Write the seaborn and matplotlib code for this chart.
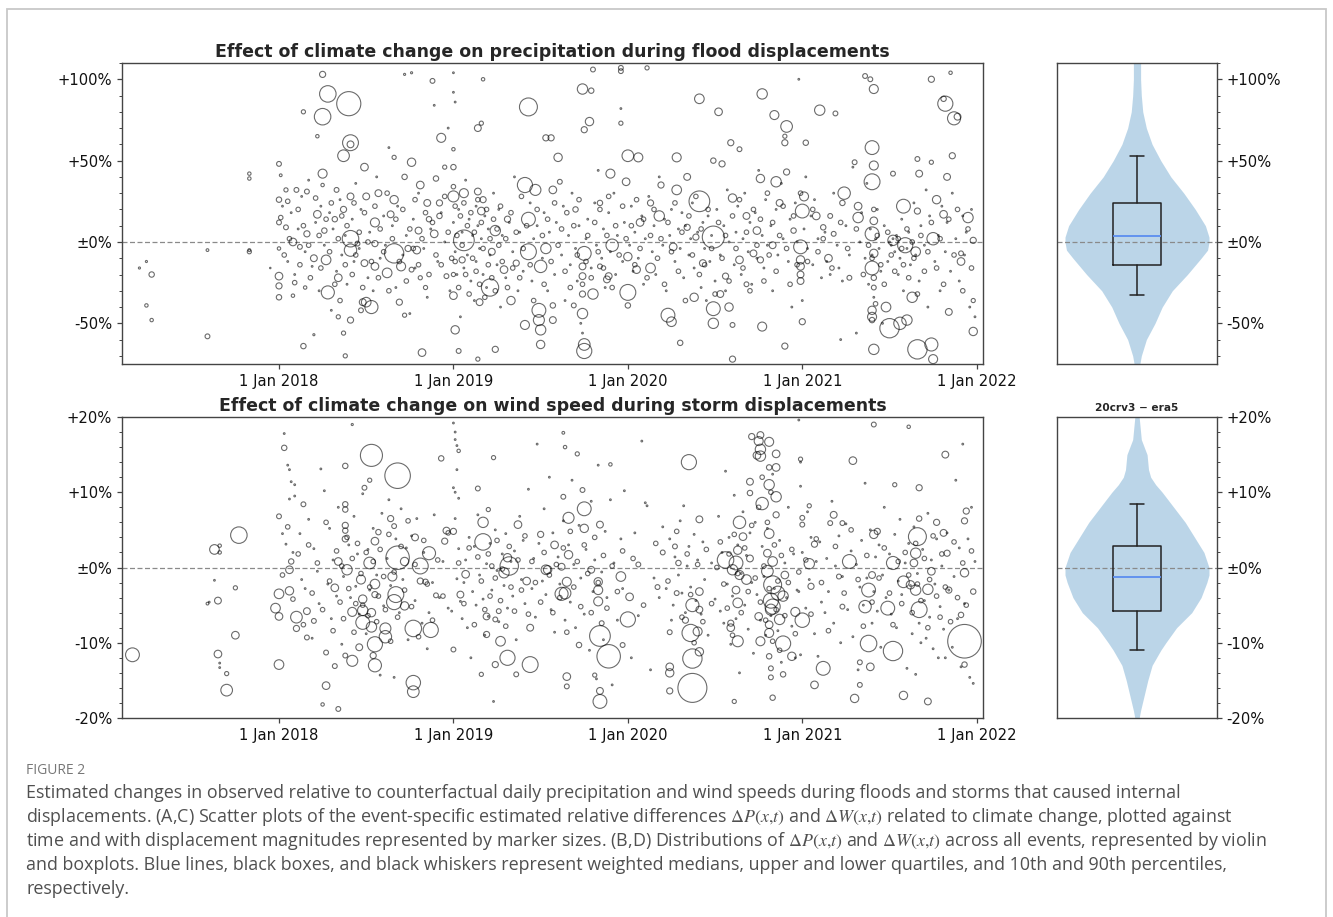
import matplotlib
matplotlib.use("Agg")
import matplotlib.pyplot as plt
import numpy as np
import pandas as pd
import seaborn as sns
from matplotlib.patches import Rectangle
from matplotlib.ticker import MultipleLocator

# ---------------- data (decimal year, change in %, displaced people in thousands) ----------------
flood_2017 = [
    (2017.20, -16, 1.5), (2017.24, -12, 1.5), (2017.27, -20, 10), (2017.24, -39, 4), (2017.27, -48, 4),
    (2017.59, -5, 2.6), (2017.59, -58, 8), (2017.83, 42, 4), (2017.83, 39, 4), (2017.83, -6, 6),
    (2017.83, -5, 3), (2017.95, -16, 0.7),
]
flood_2018 = [
    (2018.00, 48, 8), (2018.01, 41, 2.6), (2018.00, 26, 10), (2018.00, -21, 20), (2018.00, -27, 13),
    (2018.00, -34, 10), (2018.00, -4, 4), (2018.00, 12, 8), (2018.04, 32, 6), (2018.08, 0, 20),
    (2018.12, -3, 8), (2018.16, 5, 13), (2018.04, 9, 8), (2018.10, 32, 8), (2018.16, 31, 8),
    (2018.22, 17, 20), (2018.26, 7, 10), (2018.32, 14, 10), (2018.37, 20, 13), (2018.25, 35, 4),
    (2018.33, 32, 8), (2018.28, 91, 94), (2018.40, 85, 201), (2018.25, 77, 94), (2018.41, 61, 87),
    (2018.41, 60, 16), (2018.37, 53, 47), (2018.25, 103, 13), (2018.49, 46, 20), (2018.76, 49, 24),
    (2018.93, 64, 28), (2018.88, 99, 8), (2018.66, -7, 129), (2018.41, 2, 94), (2018.41, -5, 53),
    (2018.81, 35, 20), (2018.55, 12, 28), (2018.62, -19, 32), (2018.28, -31, 59), (2018.53, -40, 59),
    (2018.50, -37, 32), (2018.82, -68, 20), (2018.14, -64, 10), (2018.38, -70, 6), (2018.20, -57, 1.5),
    (2018.22, 65, 4), (2018.14, 80, 6), (2018.25, 42, 28), (2018.66, 52, 6), (2018.72, 40, 10),
    (2018.50, 28, 16), (2018.41, 28, 16), (2018.90, 39, 10), (2018.85, 24, 16), (2018.95, 46, 6),
    (2018.92, 24, 13), (2018.20, -10, 16), (2018.27, -11, 32), (2018.34, -22, 20), (2018.55, -15, 20),
    (2018.70, -15, 28), (2018.74, -4, 13), (2018.79, -5, 20), (2018.89, 5, 20), (2018.92, 16, 10),
    (2018.76, -17, 8), (2018.81, -22, 6), (2018.84, -28, 6), (2018.15, -28, 4), (2018.08, -33, 4),
    (2018.41, -48, 13), (2018.47, -42, 8), (2018.37, -56, 6), (2018.34, -46, 6), (2018.72, -45, 6),
    (2018.69, -37, 13), (2018.48, -37, 16), (2018.57, 30, 16), (2018.66, 26, 24), (2018.64, 17, 16),
    (2018.80, 7, 16), (2018.86, 14, 10), (2018.55, -1, 13), (2018.49, -13, 16), (2018.45, -1, 8),
    (2018.96, -21, 8), (2018.72, 103, 1.5), (2018.76, 104, 1.5),
]
flood_2019 = [
    (2019.00, 28, 42), (2019.06, 1, 148), (2019.06, 30, 28), (2019.43, 83, 111), (2019.14, 70, 16),
    (2019.21, -28, 103), (2019.00, -33, 20), (2019.01, -54, 24), (2019.03, -67, 8), (2019.14, -72, 6),
    (2019.50, -63, 24), (2019.49, -42, 66), (2019.41, -51, 28), (2019.49, -48, 42), (2019.24, -66, 13),
    (2019.41, 35, 79), (2019.47, 32, 42), (2019.43, 14, 66), (2019.43, -6, 87), (2019.50, -15, 53),
    (2019.53, -4, 37), (2019.57, 32, 20), (2019.33, -36, 24), (2019.15, -37, 16), (2019.14, 31, 16),
    (2019.56, 64, 13), (2019.53, 64, 13), (2019.60, 52, 24), (2019.24, 7, 37), (2019.22, -6, 16),
    (2019.29, -17, 20), (2019.31, 14, 13), (2019.36, -13, 13), (2019.16, 19, 20), (2019.17, 26, 13),
    (2019.05, -11, 13), (2019.00, -20, 6), (2019.00, 46, 10), (2019.00, 57, 4), (2019.17, 100, 4),
    (2019.16, 73, 6), (2019.74, 94, 37), (2019.79, 93, 10), (2019.80, 106, 8), (2019.96, 107, 8),
    (2019.96, 105, 8), (2019.78, 74, 24), (2019.75, 69, 13), (2019.96, 73, 6), (2019.91, -2, 53),
    (2019.88, -23, 16), (2019.80, -32, 37), (2019.75, -7, 66), (2019.74, -15, 16), (2019.74, -21, 16),
    (2019.74, -32, 13), (2019.74, -44, 37), (2019.75, -63, 47), (2019.75, -67, 79), (2019.57, -48, 16),
    (2019.57, -39, 10), (2019.69, -39, 8), (2019.61, 37, 8), (2019.70, 20, 10), (2019.84, 24, 10),
    (2019.90, 42, 28), (2019.99, 37, 20), (2019.89, -21, 16), (2019.84, -15, 8), (2019.50, -54, 37),
]
flood_2020 = [
    (2020.00, 53, 47), (2020.06, 52, 28), (2020.28, 52, 28), (2020.11, 107, 6), (2020.41, 88, 32),
    (2020.52, 80, 20), (2020.77, 91, 37), (2020.84, 78, 28), (2020.91, 71, 47), (2020.59, 61, 13),
    (2020.64, 57, 8), (2020.90, 61, 13), (2020.90, 65, 6), (2020.99, -3, 66), (2020.99, -11, 24),
    (2020.99, -15, 20), (2020.99, -20, 16), (2020.99, -24, 16), (2020.90, -64, 13), (2020.77, -52, 28),
    (2020.60, -72, 13), (2020.85, 37, 37), (2020.91, 43, 13), (2020.76, 39, 24), (2020.74, 7, 20),
    (2020.68, 16, 16), (2020.60, 27, 24), (2020.54, 48, 13), (2020.49, 50, 10), (2020.41, 25, 148),
    (2020.49, 3, 168), (2020.49, -41, 66), (2020.49, -50, 37), (2020.23, -45, 66), (2020.25, -49, 32),
    (2020.30, -62, 10), (2020.60, -51, 8), (2020.58, -40, 24), (2020.53, -32, 16), (2020.28, 32, 32),
    (2020.19, 35, 13), (2020.13, -16, 32), (2020.00, -31, 87), (2020.00, -39, 10), (2020.00, -9, 24),
    (2020.07, 12, 20), (2020.13, 24, 13), (2020.18, 16, 37), (2020.34, 40, 16), (2020.38, -34, 24),
    (2020.39, 3, 13), (2020.64, -11, 20), (2020.72, -7, 16), (2020.76, -11, 13), (2020.83, -2, 16),
    (2020.87, 24, 16), (2020.95, 7, 10), (2020.05, -17, 20), (2020.26, -3, 20), (2020.34, 9, 13),
    (2020.43, -13, 16), (2020.56, -21, 13), (2020.68, -26, 8),
]
flood_2021 = [
    (2021.10, 81, 37), (2021.19, 79, 8), (2021.36, 102, 8), (2021.39, 100, 8), (2021.41, 94, 28),
    (2021.74, 100, 13), (2021.82, 85, 79), (2021.87, 76, 59), (2021.89, 77, 16), (2021.81, 88, 10),
    (2021.85, 104, 4), (2021.02, 61, 10), (2021.40, 58, 66), (2021.41, 47, 28), (2021.40, 37, 87),
    (2021.30, 49, 8), (2021.66, 51, 8), (2021.74, 49, 6), (2021.86, 53, 13), (2021.83, 40, 16),
    (2021.67, 42, 16), (2021.52, 42, 8), (2021.77, 26, 24), (2021.58, 22, 66), (2021.66, 19, 13),
    (2021.95, 15, 37), (2021.81, 17, 20), (2021.52, 1, 37), (2021.40, 5, 66), (2021.41, 13, 20),
    (2021.41, -7, 24), (2021.40, -16, 66), (2021.41, -22, 10), (2021.41, -28, 8), (2021.59, -2, 79),
    (2021.65, -6, 32), (2021.75, 2, 53), (2021.91, -12, 20), (2021.98, 1, 13), (2021.91, -7, 8),
    (2021.63, -34, 37), (2021.60, -48, 37), (2021.48, -40, 32), (2021.50, -53, 129), (2021.56, -50, 53),
    (2021.40, -42, 24), (2021.40, -46, 28), (2021.40, -48, 10), (2021.41, -66, 37), (2021.66, -66, 129),
    (2021.74, -63, 59), (2021.75, -72, 28), (2021.84, -43, 16), (2021.98, -55, 24), (2021.98, -36, 6),
    (2021.24, 30, 53), (2021.23, 24, 10), (2021.15, -10, 20), (2021.32, 22, 20), (2021.32, 15, 37),
    (2021.00, 19, 66), (2021.01, 28, 28), (2021.00, -49, 13), (2021.08, 16, 20), (2021.12, 9, 10),
    (2021.18, 5, 8), (2021.16, 16, 8), (2021.27, -22, 8),
]
# minor flood events (~7k displaced), decimal year and change in %
flood_minor = [
    (2018.01, 15), (2018.03, -8), (2018.05, 25), (2018.06, 2), (2018.09, -25), (2018.11, 20), (2018.12, -14),
    (2018.14, 10), (2018.17, -2), (2018.18, -22), (2018.21, 27), (2018.23, 4), (2018.24, -16), (2018.27, 14),
    (2018.29, -6), (2018.30, 24), (2018.32, -26), (2018.34, 2), (2018.35, -36), (2018.36, 16), (2018.38, -14),
    (2018.39, 10), (2018.42, -20), (2018.43, 24), (2018.44, -8), (2018.46, 6), (2018.48, -28), (2018.49, 18),
    (2018.51, 0), (2018.53, -12), (2018.55, 22), (2018.57, -22), (2018.58, 8), (2018.60, -6), (2018.62, 30),
    (2018.63, -30), (2018.65, 2), (2018.67, 14), (2018.69, -12), (2018.71, 20), (2018.73, -24), (2018.75, 8),
    (2018.77, -4), (2018.78, 26), (2018.80, -14), (2018.82, 2), (2018.84, 18), (2018.86, -20), (2018.88, 12),
    (2018.90, -8), (2018.93, -14), (2018.95, 28), (2018.97, 6), (2018.99, -10),
    (2019.00, 34), (2019.01, 22), (2019.01, -12), (2019.02, 4), (2019.03, -28), (2019.04, 16), (2019.05, -2),
    (2019.06, 24), (2019.07, -20), (2019.08, 10), (2019.09, -32), (2019.10, 18), (2019.11, -10), (2019.12, 6),
    (2019.13, -18), (2019.14, 26), (2019.15, -26), (2019.16, 12), (2019.17, -4), (2019.18, -34), (2019.19, 20),
    (2019.20, -14), (2019.21, 2), (2019.22, -22), (2019.23, 14), (2019.24, -30), (2019.25, 8), (2019.26, -2),
    (2019.27, 22), (2019.28, -12), (2019.30, 2), (2019.31, -28), (2019.33, 18), (2019.34, -16), (2019.36, 6),
    (2019.38, -22), (2019.39, 28), (2019.40, -4), (2019.42, 10), (2019.44, -14), (2019.46, -36), (2019.48, 20),
    (2019.51, 4), (2019.52, -26), (2019.54, 14), (2019.56, -12), (2019.58, 24), (2019.60, -2), (2019.62, 8),
    (2019.64, -18), (2019.65, 18), (2019.67, -28), (2019.69, 10), (2019.71, -8), (2019.72, 26), (2019.74, -26),
    (2019.76, -12), (2019.77, 4), (2019.79, -22), (2019.81, 12), (2019.83, -6), (2019.84, 20), (2019.86, -16),
    (2019.88, 4), (2019.89, 28), (2019.91, -28), (2019.93, 10), (2019.95, -8), (2019.97, 22), (2019.99, 2),
    (2020.02, 10), (2020.04, -14), (2020.05, 26), (2020.07, -4), (2020.09, 14), (2020.11, -22), (2020.13, 4),
    (2020.15, 20), (2020.17, -10), (2020.19, 2), (2020.21, -26), (2020.23, 12), (2020.25, -6), (2020.27, 24),
    (2020.29, -18), (2020.31, 6), (2020.33, -36), (2020.35, 16), (2020.37, -8), (2020.39, 28), (2020.41, -20),
    (2020.42, 8), (2020.44, -14), (2020.46, 20), (2020.48, -4), (2020.50, -32), (2020.52, 12), (2020.54, -10),
    (2020.56, 4), (2020.58, -24), (2020.60, 16), (2020.62, -4), (2020.64, 26), (2020.66, -16), (2020.68, 6),
    (2020.70, -30), (2020.72, 20), (2020.74, -2), (2020.76, 14), (2020.78, -24), (2020.80, 30), (2020.81, -8),
    (2020.83, 12), (2020.85, -18), (2020.87, 4), (2020.89, 22), (2020.91, -4), (2020.93, -26), (2020.95, 16),
    (2020.97, -14), (2020.99, 30),
    (2021.03, -12), (2021.06, 20), (2021.09, -6), (2021.12, 2), (2021.17, -16), (2021.22, 12), (2021.26, -4),
    (2021.31, 8), (2021.35, -20), (2021.38, -2), (2021.40, -10), (2021.41, 20), (2021.42, -38), (2021.43, 4),
    (2021.45, -14), (2021.47, -26), (2021.49, 6), (2021.51, -8), (2021.53, -18), (2021.55, 2), (2021.57, -4),
    (2021.58, -14), (2021.60, 8), (2021.61, -22), (2021.63, 0), (2021.64, -10), (2021.66, -32), (2021.68, 4),
    (2021.70, -18), (2021.72, -6), (2021.74, 12), (2021.77, -16), (2021.79, 2), (2021.81, -26), (2021.84, 14),
    (2021.87, -8), (2021.89, 20), (2021.92, -30), (2021.95, 8), (2021.97, -16),
]
# small flood events (~1k displaced), decimal year and change in %
flood_small = [
    (2018.02, 22), (2018.05, -12), (2018.07, 18), (2018.09, -20), (2018.11, 8), (2018.13, 28),
    (2018.15, -6), (2018.17, 38), (2018.19, -15), (2018.21, 12), (2018.23, -30), (2018.24, 22),
    (2018.26, -2), (2018.29, 18), (2018.30, -42), (2018.31, 8), (2018.33, -18), (2018.35, 26),
    (2018.36, -8), (2018.38, 4), (2018.39, -26), (2018.42, 14), (2018.43, -12), (2018.44, 36),
    (2018.46, -4), (2018.47, 20), (2018.51, -22), (2018.52, 6), (2018.54, -30), (2018.56, 40),
    (2018.58, -10), (2018.60, 16), (2018.61, -2), (2018.63, 58), (2018.65, 10), (2018.67, -28),
    (2018.68, 22), (2018.71, -8), (2018.73, 4), (2018.75, -44), (2018.77, 14), (2018.78, -16),
    (2018.80, 30), (2018.83, -4), (2018.85, -34), (2018.87, 8), (2018.89, 84), (2018.91, -12),
    (2018.93, 18), (2018.95, 0), (2018.97, 70), (2018.98, -30),
    (2019.00, 104), (2019.00, 92), (2019.01, 86), (2019.00, 12), (2019.01, -6), (2019.02, -20),
    (2019.03, 20), (2019.04, -46), (2019.05, 6), (2019.06, -16), (2019.07, 38), (2019.08, -8),
    (2019.09, 14), (2019.10, -24), (2019.11, 4), (2019.12, -36), (2019.13, 22), (2019.13, -12),
    (2019.14, 10), (2019.15, -4), (2019.16, 2), (2019.17, -20), (2019.18, 16), (2019.19, -28),
    (2019.20, 8), (2019.21, -8), (2019.23, 30), (2019.25, -14), (2019.26, 20), (2019.27, -40),
    (2019.28, 4), (2019.30, -22), (2019.32, 12), (2019.34, -6), (2019.35, 40), (2019.37, -30),
    (2019.38, 6), (2019.40, -18), (2019.44, 24), (2019.45, -24), (2019.46, 2), (2019.48, 10),
    (2019.51, -10), (2019.52, 18), (2019.54, -30), (2019.55, 6), (2019.58, -20), (2019.59, 12),
    (2019.62, -8), (2019.63, 22), (2019.64, -36), (2019.66, 4), (2019.67, -14), (2019.68, 30),
    (2019.70, -4), (2019.71, -24), (2019.72, 10), (2019.73, -50), (2019.74, -56), (2019.76, 2),
    (2019.77, 14), (2019.79, -16), (2019.81, 24), (2019.82, -2), (2019.83, 44), (2019.85, -10),
    (2019.86, 8), (2019.87, -28), (2019.89, 18), (2019.90, -6), (2019.92, 30), (2019.93, -20),
    (2019.94, 4), (2019.96, 82), (2019.97, -12), (2019.98, 12),
    (2020.01, -2), (2020.02, 22), (2020.03, -18), (2020.04, 6), (2020.06, -10), (2020.08, 16),
    (2020.09, -26), (2020.10, 2), (2020.12, 28), (2020.14, -6), (2020.15, 10), (2020.16, -20),
    (2020.18, 40), (2020.20, -2), (2020.21, 14), (2020.22, -30), (2020.24, 4), (2020.25, 20),
    (2020.27, -12), (2020.29, 8), (2020.30, -4), (2020.31, 18), (2020.32, -22), (2020.33, 10),
    (2020.35, -8), (2020.36, 2), (2020.37, 24), (2020.38, -16), (2020.40, 6), (2020.42, -28),
    (2020.43, 12), (2020.44, -4), (2020.45, -36), (2020.46, 16), (2020.47, -12), (2020.48, 4),
    (2020.50, -24), (2020.51, 20), (2020.53, -8), (2020.55, 10), (2020.56, -30), (2020.57, 32),
    (2020.58, 0), (2020.61, -14), (2020.62, 6), (2020.63, 22), (2020.65, -20), (2020.66, 2),
    (2020.67, 30), (2020.69, -6), (2020.70, 12), (2020.71, -26), (2020.73, 18), (2020.74, -10),
    (2020.75, 44), (2020.77, 4), (2020.78, -16), (2020.79, 26), (2020.80, -2), (2020.82, 10),
    (2020.83, -30), (2020.85, 20), (2020.86, -8), (2020.88, 36), (2020.89, 2), (2020.92, -12),
    (2020.93, 14), (2020.94, -40), (2020.96, 24), (2020.97, 0), (2020.98, 100),
    (2021.00, -36), (2021.01, 8), (2021.02, 40), (2021.03, -4), (2021.05, 16), (2021.06, -14),
    (2021.07, 26), (2021.09, 2), (2021.11, -22), (2021.13, 6), (2021.14, -12), (2021.16, -20),
    (2021.18, 30), (2021.20, -2), (2021.21, -16), (2021.22, -60), (2021.23, -24), (2021.25, 10),
    (2021.27, -8), (2021.29, 46), (2021.31, -56), (2021.33, 0), (2021.34, 18), (2021.36, -10),
    (2021.37, 36), (2021.38, -26), (2021.39, 8), (2021.40, -8), (2021.41, -34), (2021.42, 2),
    (2021.43, 20), (2021.44, -4), (2021.45, -18), (2021.46, -50), (2021.47, 10), (2021.49, -12),
    (2021.50, 0), (2021.51, -2), (2021.52, 2), (2021.53, -6), (2021.54, 4), (2021.55, -20),
    (2021.56, -10), (2021.57, 14), (2021.58, -30), (2021.60, -4), (2021.61, 6), (2021.62, -14),
    (2021.64, 24), (2021.65, -8), (2021.67, -24), (2021.68, 10), (2021.70, -2), (2021.71, 32),
    (2021.72, -40), (2021.73, 16), (2021.76, -12), (2021.78, 4), (2021.79, -30), (2021.80, 22),
    (2021.82, -6), (2021.83, 12), (2021.85, -18), (2021.86, 30), (2021.88, 2), (2021.90, -24),
    (2021.92, 16), (2021.93, -8), (2021.94, 6), (2021.96, -40), (2021.97, 20), (2021.99, -46),
]

wind_2017 = [
    (2017.16, -11.6, 66), (2017.63, 2.4, 32), (2017.66, 2.9, 4), (2017.66, 2.0, 4), (2017.77, 4.3, 94),
    (2017.65, -4.4, 16), (2017.59, -4.8, 2.6), (2017.75, -2.7, 6), (2017.75, -9.0, 20),
    (2017.65, -11.5, 20), (2017.70, -14.1, 6), (2017.70, -16.3, 47),
]
wind_2018 = [
    (2018.00, 6.8, 8), (2018.03, 15.9, 10), (2018.00, -3.5, 32), (2018.06, -3.1, 24), (2017.98, -5.4, 32),
    (2018.00, -6.5, 20), (2018.00, -12.9, 32), (2018.06, -0.3, 20), (2018.07, 0.8, 10), (2018.10, -6.6, 47),
    (2018.10, -8.1, 13), (2018.16, -5.8, 16), (2018.14, 8.4, 8), (2018.27, -15.7, 20), (2018.34, -18.8, 8),
    (2018.25, -18.2, 4), (2018.53, 14.9, 168), (2018.68, 12.2, 225), (2018.38, 13.5, 10), (2018.52, 11.6, 6),
    (2018.38, 8.4, 10), (2018.38, 7.7, 10), (2018.38, 5.6, 13), (2018.38, 4.9, 10), (2018.38, 3.8, 13),
    (2018.57, 4.7, 10), (2018.55, 3.5, 20), (2018.64, 6.5, 13), (2018.66, 5.5, 8), (2018.78, 4.0, 16),
    (2018.86, 1.9, 59), (2018.68, 1.3, 190), (2018.81, 0.2, 87), (2018.72, 0.8, 24), (2018.52, 0.6, 47),
    (2018.39, -0.3, 37), (2018.34, 0.8, 20), (2018.47, -1.6, 28), (2018.55, -2.2, 32), (2018.65, -1.2, 28),
    (2018.67, -3.6, 87), (2018.66, -4.6, 79), (2018.72, -5.1, 24), (2018.55, -3.6, 13), (2018.48, -4.2, 24),
    (2018.42, -5.9, 28), (2018.48, -5.7, 37), (2018.48, -7.3, 66), (2018.53, -7.9, 37), (2018.53, -6.0, 24),
    (2018.61, -8.1, 42), (2018.61, -9.2, 53), (2018.55, -10.2, 79), (2018.55, -13.0, 59), (2018.54, -11.7, 13),
    (2018.46, -10.6, 16), (2018.42, -12.4, 42), (2018.38, -11.7, 8), (2018.77, -8.1, 94), (2018.87, -8.3, 79),
    (2018.77, -15.3, 72), (2018.77, -16.5, 47), (2018.93, 14.5, 10), (2018.96, 4.9, 16), (2018.95, 3.5, 13),
    (2018.90, -3.7, 8), (2018.84, -1.9, 10), (2018.81, -1.8, 13), (2018.32, -2.7, 20), (2018.20, -7.1, 8),
    (2018.16, -9.3, 8), (2018.27, -11.3, 8), (2018.32, -13.1, 8), (2018.49, 10.6, 8), (2018.42, 19.0, 1.5),
]
wind_2019 = [
    (2019.17, 3.4, 94), (2019.17, 6.0, 37), (2019.32, 0.2, 117), (2019.29, -0.7, 37), (2019.31, 1.3, 24),
    (2019.07, -0.9, 20), (2019.04, -3.6, 16), (2019.00, 4.8, 13), (2019.14, 10.5, 8), (2019.23, 14.6, 6),
    (2019.03, 15.5, 4), (2019.00, -10.9, 8), (2019.19, -6.5, 16), (2019.24, -6.9, 8), (2019.26, -5.8, 8),
    (2019.19, -8.9, 13), (2019.27, -9.8, 32), (2019.31, -12.0, 79), (2019.44, -12.9, 87), (2019.24, -12.9, 13),
    (2019.36, -14.2, 8), (2019.16, -14.2, 6), (2019.20, 7.7, 6), (2019.37, 5.7, 20), (2019.44, -8.0, 16),
    (2019.42, -1.8, 20), (2019.50, 4.4, 13), (2019.54, -0.3, 24), (2019.63, 17.9, 2.6), (2019.64, 16.0, 4),
    (2019.71, 15.1, 6), (2019.75, 7.8, 66), (2019.66, 6.6, 42), (2019.74, 10.3, 8), (2019.63, 9.4, 8),
    (2019.75, 5.2, 24), (2019.84, 5.7, 16), (2019.90, 13.7, 4), (2019.58, 3.0, 20), (2019.53, -0.3, 32),
    (2019.66, 1.7, 24), (2019.62, 0.1, 16), (2019.65, -1.9, 28), (2019.64, -3.4, 47), (2019.62, -3.5, 59),
    (2019.79, -0.3, 16), (2019.83, -1.9, 24), (2019.83, -3.0, 28), (2019.83, -4.5, 28), (2019.96, -1.2, 32),
    (2019.84, -9.1, 148), (2019.89, -11.8, 190), (2019.85, -7.4, 8), (2019.97, -10.3, 8), (2019.72, -10.3, 10),
    (2019.65, -14.5, 20), (2019.65, -15.8, 8), (2019.81, -14.3, 6), (2019.84, -16.4, 16), (2019.84, -17.8, 66),
]
wind_2020 = [
    (2020.01, -3.9, 20), (2020.00, -6.9, 79), (2020.35, 14.0, 79), (2020.41, 6.4, 16), (2020.27, 2.8, 8),
    (2020.20, 2.0, 8), (2020.29, 0.6, 10), (2020.06, 0.4, 8), (2020.17, -2.6, 8), (2020.28, -3.4, 8),
    (2020.37, -5.0, 59), (2020.41, -3.2, 20), (2020.41, -5.6, 16), (2020.33, -7.0, 13), (2020.36, -8.7, 103),
    (2020.40, -8.5, 28), (2020.41, -11.2, 24), (2020.37, -12.1, 129), (2020.37, -16.0, 290), (2020.24, -13.2, 20),
    (2020.24, -14.0, 24), (2020.24, -16.4, 13), (2020.24, -8.6, 8), (2020.61, -17.8, 6), (2020.56, 1.0, 94),
    (2020.62, 0.6, 66), (2020.60, -0.3, 37), (2020.64, -1.0, 28), (2020.64, 6.0, 53), (2020.66, 4.1, 20),
    (2020.63, 2.3, 24), (2020.70, 1.2, 16), (2020.68, -1.6, 32), (2020.62, -3.0, 20), (2020.63, -4.7, 32),
    (2020.59, -7.4, 13), (2020.59, -8.0, 20), (2020.63, -9.8, 42), (2020.70, 9.9, 10), (2020.70, 11.4, 16),
    (2020.71, 17.4, 13), (2020.76, 17.6, 16), (2020.75, 16.8, 28), (2020.76, 15.7, 37), (2020.74, 14.9, 20),
    (2020.81, 16.7, 28), (2020.85, 15.1, 20), (2020.76, 14.8, 37), (2020.81, 13.3, 10), (2020.85, 13.3, 20),
    (2020.81, 11.0, 37), (2020.85, 9.4, 37), (2020.77, 8.5, 53), (2020.85, 7.0, 13), (2020.81, 4.5, 32),
    (2020.80, 1.9, 20), (2020.83, 0.8, 32), (2020.80, -0.5, 47), (2020.83, -2.3, 111), (2020.86, -3.4, 66),
    (2020.82, -4.4, 79), (2020.89, -3.8, 37), (2020.82, -5.6, 42), (2020.83, -5.2, 79), (2020.87, -6.9, 37),
    (2020.90, -1.0, 20), (2020.75, -6.5, 20), (2020.81, -7.6, 20), (2020.81, -8.7, 28), (2020.76, -9.8, 28),
    (2020.89, -10.1, 79), (2020.81, -11.8, 10), (2020.82, -13.4, 8), (2020.82, -14.6, 8), (2020.89, -14.2, 10),
    (2020.83, -17.3, 10), (2020.94, -11.8, 24), (2020.96, -5.9, 28), (2020.99, 14.4, 6),
]
wind_2021 = [
    (2021.00, -7.0, 72), (2021.05, -2.5, 13), (2021.04, 0.5, 37), (2021.07, 3.1, 13), (2021.00, 5.7, 8),
    (2021.00, 6.6, 8), (2021.04, 8.2, 6), (2021.12, -13.4, 66), (2021.07, -15.6, 20), (2021.18, 7.0, 16),
    (2021.16, 5.9, 8), (2021.23, 5.9, 8), (2021.27, 0.8, 66), (2021.21, -1.2, 8), (2021.23, -5.2, 8),
    (2021.29, 14.2, 20), (2021.38, -3.0, 66), (2021.36, -5.2, 53), (2021.38, -10.1, 94), (2021.39, -13.2, 20),
    (2021.33, -15.6, 8), (2021.30, -17.4, 24), (2021.41, 4.4, 24), (2021.43, 4.8, 13), (2021.49, -5.4, 66),
    (2021.52, -11.1, 129), (2021.52, 0.6, 59), (2021.53, 11.0, 6), (2021.58, -17.0, 24), (2021.58, -1.9, 47),
    (2021.62, -2.3, 24), (2021.64, 0.6, 20), (2021.66, 4.1, 111), (2021.65, 1.9, 37), (2021.67, 6.5, 10),
    (2021.67, -5.6, 87), (2021.65, -3.0, 37), (2021.72, -2.9, 37), (2021.74, -0.5, 20), (2021.77, 6.0, 13),
    (2021.81, 4.6, 16), (2021.83, 1.9, 13), (2021.84, -3.0, 13), (2021.67, 10.6, 13), (2021.82, 15.0, 16),
    (2021.41, 19.0, 8), (2021.61, 18.7, 4), (2021.94, 7.5, 13), (2021.93, 6.2, 13), (2021.93, -0.7, 24),
    (2021.98, -3.2, 10), (2021.91, -6.3, 10), (2021.93, -9.8, 390), (2021.93, -12.9, 10), (2021.72, -17.8, 16),
    (2021.33, -12.6, 8), (2021.40, -1.0, 16),
]
# minor storm events (~7k displaced), decimal year and change in %
wind_minor = [
    (2018.02, -1.0), (2018.05, 5.4), (2018.08, -4.2), (2018.11, 1.8), (2018.14, -7.6), (2018.17, 3.0),
    (2018.19, -3.4), (2018.22, 0.6), (2018.25, -5.6), (2018.27, 6.0), (2018.29, -1.8), (2018.31, -8.4),
    (2018.33, 2.2), (2018.35, -4.6), (2018.36, 0.2), (2018.37, -6.8), (2018.39, 4.0), (2018.40, -2.8),
    (2018.42, 1.2), (2018.43, -8.6), (2018.44, -4.8), (2018.45, 3.2), (2018.47, -0.8), (2018.48, -5.0),
    (2018.50, 2.0), (2018.51, -6.4), (2018.52, -2.6), (2018.54, 0.8), (2018.56, -7.2), (2018.57, -3.8),
    (2018.58, 2.4), (2018.60, -1.2), (2018.61, -5.6), (2018.63, 4.4), (2018.64, -9.8), (2018.66, -0.6),
    (2018.68, -6.6), (2018.70, 2.8), (2018.72, -3.0), (2018.74, 6.2), (2018.76, -5.2), (2018.78, 0.4),
    (2018.80, -9.2), (2018.83, 3.6), (2018.85, -2.2), (2018.88, -7.0), (2018.91, 1.0), (2018.94, -3.8),
    (2018.97, 4.6),
    (2019.03, 0.6), (2019.06, -4.8), (2019.09, 2.6), (2019.12, -7.6), (2019.14, 1.4), (2019.16, -1.8),
    (2019.18, -5.6), (2019.20, 1.8), (2019.21, -3.8), (2019.22, 0.2), (2019.24, -1.4), (2019.25, 3.6),
    (2019.27, -4.4), (2019.28, -0.2), (2019.30, -7.8), (2019.32, 2.8), (2019.33, -2.6), (2019.35, -5.8),
    (2019.37, 1.0), (2019.39, -3.0), (2019.41, 4.2), (2019.43, -6.2), (2019.45, 0.8), (2019.47, -2.0),
    (2019.50, -4.6), (2019.52, 2.0), (2019.55, -1.0), (2019.57, -6.0), (2019.59, 0.4), (2019.61, -4.0),
    (2019.63, 2.6), (2019.65, -8.6), (2019.67, 4.8), (2019.69, -2.6), (2019.71, 0.8), (2019.73, -5.2),
    (2019.75, 3.0), (2019.77, -0.8), (2019.79, -6.0), (2019.81, 4.0), (2019.83, -2.0), (2019.86, 1.6),
    (2019.88, -5.4), (2019.91, 0.2), (2019.94, -3.2), (2019.97, 2.2),
    (2020.03, 1.2), (2020.09, -5.0), (2020.16, 3.2), (2020.23, -1.8), (2020.28, 4.8), (2020.31, -6.6),
    (2020.34, 1.8), (2020.36, -3.6), (2020.38, -10.0), (2020.40, 0.4), (2020.43, -7.2), (2020.45, 2.4),
    (2020.48, -4.8), (2020.51, 0.0), (2020.53, 3.4), (2020.55, -2.2), (2020.57, -5.4), (2020.58, 1.8),
    (2020.60, -9.0), (2020.61, 4.4), (2020.63, -0.8), (2020.65, -6.0), (2020.67, 2.6), (2020.69, -3.2),
    (2020.71, 5.6), (2020.73, -1.4), (2020.75, 8.0), (2020.76, -4.6), (2020.77, 12.0), (2020.78, 0.2),
    (2020.79, -7.0), (2020.80, 6.0), (2020.81, -2.8), (2020.82, 10.0), (2020.83, -9.8), (2020.84, 3.0),
    (2020.85, -5.6), (2020.86, -1.8), (2020.87, -11.0), (2020.88, 1.6), (2020.90, -6.4), (2020.92, -2.0),
    (2020.94, 2.4), (2020.96, -8.8), (2020.98, -0.6),
    (2021.02, 1.0), (2021.05, -6.2), (2021.08, 3.8), (2021.11, -2.0), (2021.15, -8.4), (2021.19, 2.8),
    (2021.24, -3.4), (2021.28, 5.0), (2021.32, -1.6), (2021.35, -7.8), (2021.37, 1.6), (2021.40, -4.6),
    (2021.44, -1.4), (2021.47, 2.6), (2021.50, -3.4), (2021.52, -7.6), (2021.55, 0.8), (2021.57, -4.8),
    (2021.59, 2.0), (2021.61, -1.0), (2021.63, -6.0), (2021.65, 3.2), (2021.66, -2.2), (2021.68, -4.4),
    (2021.70, 1.2), (2021.72, -8.0), (2021.73, -1.6), (2021.75, 4.2), (2021.77, -3.8), (2021.79, -6.6),
    (2021.80, 1.8), (2021.82, -2.6), (2021.85, -7.2), (2021.87, 3.4), (2021.89, -4.0), (2021.92, 0.6),
    (2021.94, -5.0), (2021.97, 2.2),
]
# small storm events (~1k displaced), decimal year and change in %
wind_small = [
    (2017.63, -1.7), (2017.66, -12.7), (2017.66, -13.3), (2017.60, -4.6),
    (2018.03, 17.8), (2018.05, 13.6), (2018.06, 13.0), (2018.07, 11.4), (2018.09, 11.0), (2018.06, 9.1),
    (2018.09, 9.5), (2018.02, 4.5), (2018.04, 3.1), (2018.08, 2.0), (2018.12, 4.5), (2018.13, -1.6),
    (2018.15, -2.8), (2018.17, 6.4), (2018.19, -9.4), (2018.20, 2.5), (2018.22, -0.5), (2018.23, -4.8),
    (2018.24, 13.1), (2018.26, 10.2), (2018.28, -2.2), (2018.29, 5.2), (2018.30, -6.8), (2018.31, 1.0),
    (2018.33, -3.8), (2018.34, 8.0), (2018.36, -10.2), (2018.37, -1.2), (2018.40, 3.0), (2018.41, -4.0),
    (2018.43, 6.8), (2018.44, -2.5), (2018.45, 1.8), (2018.46, -6.2), (2018.48, 9.8), (2018.50, -8.8),
    (2018.51, 2.4), (2018.52, -3.0), (2018.54, 5.2), (2018.56, -1.0), (2018.58, -14.3), (2018.59, 7.2),
    (2018.60, -5.1), (2018.62, 1.2), (2018.63, 9.0), (2018.64, -2.4), (2018.66, -14.6), (2018.67, 3.8),
    (2018.69, -6.0), (2018.70, 7.8), (2018.71, -1.6), (2018.73, 2.6), (2018.74, -9.6), (2018.76, 4.2),
    (2018.78, -4.4), (2018.79, 6.5), (2018.82, -7.4), (2018.83, 2.0), (2018.85, -10.8), (2018.86, -6.0),
    (2018.88, -2.0), (2018.89, 7.0), (2018.92, -4.0), (2018.94, 0.8), (2018.97, -5.4), (2018.99, -5.8),
    (2019.00, 19.2), (2019.01, 18.0), (2019.01, 17.0), (2019.02, 16.2), (2019.02, 13.0), (2019.00, 10.6),
    (2019.01, 10.0), (2019.03, 9.2), (2019.01, 6.5), (2019.03, 2.5), (2019.02, -1.5), (2019.04, -4.5),
    (2019.05, -6.8), (2019.06, -2.0), (2019.07, 1.0), (2019.08, -8.0), (2019.09, 4.0), (2019.10, -12.0),
    (2019.11, -3.2), (2019.12, 2.8), (2019.13, -5.0), (2019.14, 7.0), (2019.15, -1.0), (2019.17, -4.2),
    (2019.18, -9.0), (2019.19, 0.5), (2019.20, -6.5), (2019.21, 3.2), (2019.22, -3.0), (2019.23, -17.8),
    (2019.24, 5.0), (2019.25, -0.4), (2019.26, -7.2), (2019.28, 1.8), (2019.29, -2.4), (2019.30, 4.5),
    (2019.31, -5.4), (2019.33, 0.8), (2019.34, -3.8), (2019.35, 2.2), (2019.36, -9.6), (2019.38, 6.8),
    (2019.39, -1.6), (2019.40, 3.6), (2019.41, -4.8), (2019.43, 10.4), (2019.45, -2.8), (2019.46, 1.2),
    (2019.47, -6.6), (2019.48, 16.4), (2019.49, 3.2), (2019.51, -1.8), (2019.52, 7.8), (2019.53, -3.6),
    (2019.55, 12.0), (2019.56, -5.6), (2019.57, 4.6), (2019.58, -8.6), (2019.60, 1.4), (2019.61, -2.2),
    (2019.63, 6.2), (2019.64, -7.0), (2019.66, 3.0), (2019.67, -4.6), (2019.68, 11.6), (2019.69, 0.4),
    (2019.70, -8.0), (2019.72, 5.6), (2019.73, -1.4), (2019.75, -6.2), (2019.76, 2.4), (2019.78, -11.0),
    (2019.79, 8.8), (2019.80, -3.2), (2019.81, 1.0), (2019.82, -14.8), (2019.83, 13.6), (2019.85, -0.6),
    (2019.86, -9.6), (2019.87, 4.8), (2019.88, -4.0), (2019.90, 9.0), (2019.91, -15.6), (2019.92, 0.6),
    (2019.94, -7.0), (2019.96, 3.8), (2019.97, -2.8), (2019.98, 10.2),
    (2020.02, -12.0), (2020.04, 4.6), (2020.06, -6.4), (2020.08, 16.8), (2020.10, 8.6), (2020.11, 8.2),
    (2020.13, -13.6), (2020.15, -1.4), (2020.18, -4.0), (2020.20, 5.4), (2020.22, -2.8), (2020.24, 3.8),
    (2020.25, -7.0), (2020.26, -5.0), (2020.27, 1.4), (2020.29, -1.0), (2020.30, 6.2), (2020.31, -3.4),
    (2020.32, 8.2), (2020.33, -6.0), (2020.34, 0.2), (2020.35, 2.8), (2020.36, -2.6), (2020.38, 4.4),
    (2020.39, -4.4), (2020.40, 1.0), (2020.42, -6.2), (2020.43, 3.4), (2020.44, -1.6), (2020.46, -9.0),
    (2020.48, 0.6), (2020.50, -4.2), (2020.52, 6.8), (2020.53, -5.8), (2020.54, 2.0), (2020.55, -7.4),
    (2020.56, 12.8), (2020.57, -2.2), (2020.58, 4.0), (2020.59, -10.2), (2020.60, -3.8), (2020.61, 9.6),
    (2020.62, -6.8), (2020.63, 3.0), (2020.64, -14.0), (2020.65, -0.8), (2020.66, 7.4), (2020.67, -5.0),
    (2020.68, 1.6), (2020.69, -8.2), (2020.70, 4.6), (2020.71, -2.0), (2020.72, -11.4), (2020.73, 6.0),
    (2020.74, -3.6), (2020.76, -7.0), (2020.77, 2.8), (2020.78, -1.2), (2020.79, -9.0), (2020.80, 5.2),
    (2020.82, -6.4), (2020.83, 12.4), (2020.84, -2.8), (2020.86, -8.4), (2020.87, 3.6), (2020.88, -12.6),
    (2020.90, 0.6), (2020.91, -4.0), (2020.92, 8.0), (2020.94, -7.8), (2020.95, 1.8), (2020.96, -12.0),
    (2020.97, -3.0), (2020.98, 19.6), (2020.99, 14.0), (2020.99, 10.8), (2020.98, -3.2), (2020.99, -11.6),
    (2021.00, 2.0), (2021.02, -5.4), (2021.03, 7.4), (2021.04, -1.6), (2021.05, 4.0), (2021.07, -8.8),
    (2021.08, 0.8), (2021.09, -11.8), (2021.10, 3.4), (2021.11, -4.6), (2021.13, -6.0), (2021.14, 1.2),
    (2021.15, -3.2), (2021.17, 8.8), (2021.18, -7.4), (2021.19, 0.2), (2021.21, 4.2), (2021.22, -10.0),
    (2021.23, -1.2), (2021.25, 5.8), (2021.26, -5.6), (2021.28, 2.2), (2021.29, -9.2), (2021.31, 0.4),
    (2021.32, -13.6), (2021.33, -2.6), (2021.34, 3.6), (2021.35, -5.0), (2021.36, 11.2), (2021.37, -1.4),
    (2021.39, 5.0), (2021.40, -7.4), (2021.41, -3.2), (2021.42, 1.4), (2021.43, -5.8), (2021.44, 3.0),
    (2021.45, -10.6), (2021.46, -1.0), (2021.47, 8.0), (2021.48, -4.0), (2021.50, 1.8), (2021.51, -6.2),
    (2021.53, 4.4), (2021.54, -8.0), (2021.55, -1.8), (2021.56, 6.4), (2021.57, -3.6), (2021.59, 0.6),
    (2021.60, -13.4), (2021.61, 3.2), (2021.62, -2.4), (2021.63, -8.8), (2021.64, 5.4), (2021.65, -14.2),
    (2021.66, -0.8), (2021.67, -7.4), (2021.68, -10.0), (2021.69, 2.4), (2021.70, -4.4), (2021.71, -9.4),
    (2021.72, 7.2), (2021.73, -6.6), (2021.74, 1.0), (2021.75, -10.8), (2021.76, -2.2), (2021.77, 3.8),
    (2021.78, -12.0), (2021.79, -5.2), (2021.80, 0.2), (2021.81, -8.2), (2021.82, -12.0), (2021.83, 4.6),
    (2021.84, -3.0), (2021.86, -10.6), (2021.87, -1.2), (2021.88, 11.6), (2021.89, -6.8), (2021.90, 2.6),
    (2021.91, -13.2), (2021.92, 16.4), (2021.93, -4.8), (2021.95, 3.8), (2021.96, -14.6), (2021.97, 8.0),
    (2021.98, -15.4), (2021.99, 0.8),
]
minor_event_displaced = 7.0
small_event_displaced = 1.0

# violin outlines (change in %, relative density) and weighted box statistics
flood_violin_y = [110, 100, 90, 80, 70, 60, 50, 40, 30, 20, 10, 3, 0, -5, -10, -20, -30, -40, -50, -60, -70, -75]
flood_violin_w = [0.05, 0.05, 0.06, 0.08, 0.13, 0.21, 0.33, 0.47, 0.65, 0.81, 0.95, 1.0, 1.0, 0.98, 0.89,
                  0.70, 0.49, 0.35, 0.25, 0.13, 0.06, 0.04]
wind_violin_y = [20, 18, 17, 16, 15, 14, 13, 12, 11, 10, 8, 6, 4, 2, 0, -1, -2, -4, -6, -8, -10, -11, -13,
                 -15, -17, -19, -20]
wind_violin_w = [0.03, 0.05, 0.06, 0.10, 0.14, 0.15, 0.16, 0.19, 0.26, 0.35, 0.51, 0.67, 0.80, 0.93, 1.0,
                 1.0, 0.97, 0.89, 0.76, 0.55, 0.40, 0.33, 0.21, 0.15, 0.10, 0.05, 0.03]
flood_box = dict(whislo=-32.4, q1=-14.4, med=3.7, q3=23.7, whishi=52.7)
wind_box = dict(whislo=-10.9, q1=-5.8, med=-1.2, q3=2.9, whishi=8.4)

x_tick_years = [2018, 2019, 2020, 2021, 2022]
x_tick_labels = ["1 Jan 2018", "1 Jan 2019", "1 Jan 2020", "1 Jan 2021", "1 Jan 2022"]
flood_ticks = [-50, 0, 50, 100]
flood_tick_labels = ["-50%", "\u00b10%", "+50%", "+100%"]
wind_ticks = [-20, -10, 0, 10, 20]
wind_tick_labels = ["-20%", "-10%", "\u00b10%", "+10%", "+20%"]

caption_lines = [
    "Estimated changes in observed relative to counterfactual daily precipitation and wind speeds during floods and storms that caused internal",
    r"displacements. (A,C) Scatter plots of the event-specific estimated relative differences $\Delta P\left(x{,}t\right)$ and $\Delta W\left(x{,}t\right)$ related to climate change, plotted against",
    r"time and with displacement magnitudes represented by marker sizes. (B,D) Distributions of $\Delta P\left(x{,}t\right)$ and $\Delta W\left(x{,}t\right)$ across all events, represented by violin",
    "and boxplots. Blue lines, black boxes, and black whiskers represent weighted medians, upper and lower quartiles, and 10th and 90th percentiles,",
    "respectively.",
]


def to_dates(years):
    years = np.asarray(years, dtype=float)
    return pd.Timestamp("2017-01-01") + pd.to_timedelta((years - 2017) * 365.25, unit="D")


def events_frame(groups, minor, small):
    big = pd.DataFrame([r for g in groups for r in g], columns=["year", "change", "displaced"])
    mid = pd.DataFrame(minor, columns=["year", "change"])
    mid["displaced"] = minor_event_displaced
    dots = pd.DataFrame(small, columns=["year", "change"])
    dots["displaced"] = small_event_displaced
    df = pd.concat([dots, mid, big], ignore_index=True)
    df["date"] = to_dates(df["year"])
    return df


flood = events_frame([flood_2017, flood_2018, flood_2019, flood_2020, flood_2021], flood_minor, flood_small)
wind = events_frame([wind_2017, wind_2018, wind_2019, wind_2020, wind_2021], wind_minor, wind_small)

# ---------------- figure ----------------
sns.set_style("ticks")
plt.rcParams["font.family"] = ["DejaVu Sans"]
plt.rcParams["mathtext.fontset"] = "stix"

W, H = 1333, 917
fig = plt.figure(figsize=(W / 100, H / 100), dpi=100)
fig.patch.set_facecolor("white")


def px_axes(left, top, right, bottom):
    return fig.add_axes([left / W, 1 - bottom / H, (right - left) / W, (bottom - top) / H])


ax_p = px_axes(122, 63, 983, 364)
ax_w = px_axes(122, 417, 983, 718)
vx_p = px_axes(1057, 63, 1217, 364)
vx_w = px_axes(1057, 417, 1217, 718)

xlim = to_dates([2017.10, 2022.036])
panels = [
    (ax_p, vx_p, flood, (-75, 110), flood_ticks, flood_tick_labels, 10,
     "Effect of climate change on precipitation during flood displacements",
     flood_violin_y, flood_violin_w, flood_box),
    (ax_w, vx_w, wind, (-20, 20), wind_ticks, wind_tick_labels, 2,
     "Effect of climate change on wind speed during storm displacements",
     wind_violin_y, wind_violin_w, wind_box),
]

edge = (0, 0, 0, 0.58)
for ax, vax, df, ylim, ticks, labels, minor, title, vy, vw, box in panels:
    ax.axhline(0, color="#8a8a8a", lw=0.9, ls=(0, (4, 2)), zorder=0)
    sns.scatterplot(data=df, x="date", y="change", size="displaced", sizes=(0, 600),
                    size_norm=(0, 400), facecolor="none", edgecolor=edge, linewidth=0.8,
                    legend=False, ax=ax)
    ax.set_xlim(xlim)
    ax.set_ylim(ylim)
    ax.set_xticks(to_dates(x_tick_years))
    ax.set_xticklabels(x_tick_labels)
    ax.set_yticks(ticks)
    ax.set_yticklabels(labels)
    ax.yaxis.set_minor_locator(MultipleLocator(minor))
    ax.set_xlabel("")
    ax.set_ylabel("")
    ax.set_title(title, fontsize=12.5, fontweight="bold", pad=4)

    # violin + weighted box plot
    vw_arr = np.asarray(vw) * 0.9
    vax.fill_betweenx(vy, -vw_arr, vw_arr, color="#1f77b4", alpha=0.3, lw=0, zorder=1)
    vax.axhline(0, color="#8a8a8a", lw=0.9, ls=(0, (4, 2)), zorder=2)
    stats = [dict(box, fliers=[])]
    vax.bxp(stats, positions=[0], widths=0.6, capwidths=0.18, showfliers=False, manage_ticks=False,
            boxprops=dict(color="#222222", lw=1.1), whiskerprops=dict(color="#222222", lw=1.1),
            capprops=dict(color="#222222", lw=1.1), medianprops=dict(color="#5b8def", lw=1.3),
            zorder=3)
    vax.set_xlim(-1, 1)
    vax.set_ylim(ylim)
    vax.set_xticks([])
    vax.yaxis.tick_right()
    vax.set_yticks(ticks)
    vax.set_yticklabels(labels)
    vax.yaxis.set_minor_locator(MultipleLocator(minor))

    for a in (ax, vax):
        for sp in a.spines.values():
            sp.set_visible(True)
            sp.set_color("#444444")
            sp.set_linewidth(1.0)
        a.tick_params(which="major", length=3.5, width=0.9, color="#444444", labelsize=10.6,
                      labelcolor="#111111")
        a.tick_params(which="minor", length=2, width=0.7, color="#444444")

vx_w.set_title("20crv3 \u2212 era5", fontsize=7.6, fontweight="bold", pad=4)

# page frame and caption
fig.add_artist(Rectangle((7 / W, -0.05), (1326 - 7) / W, 1.05 - 9 / H, transform=fig.transFigure,
                         fill=False, ec="#c8c8c8", lw=1.3))
fig.text(26 / W, 1 - 770 / H, "FIGURE 2", fontsize=10, color="#777777", va="center",
         family=["Open Sans", "DejaVu Sans"])
for i, line in enumerate(caption_lines):
    fig.text(26 / W, 1 - (793 + 24 * i) / H, line, fontsize=12.9, color="#505050", va="center",
             family=["Open Sans", "DejaVu Sans"])

fig.savefig("out.png", dpi=100)
